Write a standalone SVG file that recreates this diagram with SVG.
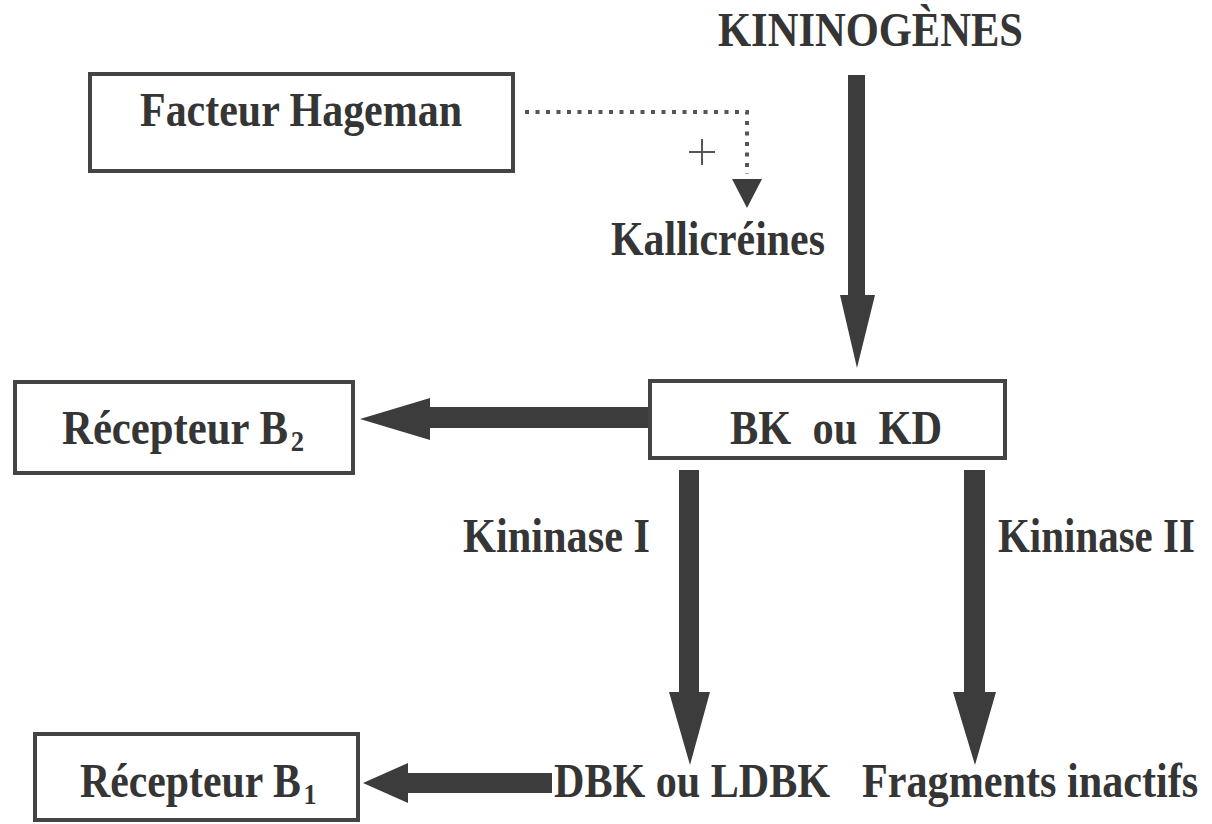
<svg xmlns="http://www.w3.org/2000/svg" width="1212" height="824" viewBox="0 0 1212 824">
<style>
.t{font-family:"Liberation Serif","Times New Roman",serif;font-weight:bold;font-size:48px;fill:#353535}
.box{fill:#fff;stroke:#444;stroke-width:4}
.arr{fill:#3c3c3c}
.dot{fill:none;stroke:#555;stroke-width:4;stroke-dasharray:4 6.5}
</style>
<rect width="1212" height="824" fill="#fff"/>
<g id="connectors">
<path class="dot" d="M525 112 H747 V174"/>
<polygon class="arr" points="732,179 762,179 747,208"/>
<path d="M689 152 H715 M702 139 V165" stroke="#555" stroke-width="2" fill="none"/>
<polygon class="arr" points="848,75 865,75 865,295 875,295 857,368 840,295 848,295"/>
<polygon class="arr" points="648,407 648,428 430,428 430,440 360,419 430,398 430,407"/>
<polygon class="arr" points="552,773 552,793 408,793 408,803 363,783 408,763 408,773"/>
<polygon class="arr" points="679,470 699,470 699,692 710,692 690,765 669,692 679,692"/>
<polygon class="arr" points="964,470 985,470 985,692 996,692 975,765 953,692 964,692"/>
</g>
<g id="kininogenes"><text class="t" x="718" y="46" textLength="305" lengthAdjust="spacingAndGlyphs">KININOGÈNES</text></g>
<g id="hageman">
<rect class="box" x="90" y="74" width="423" height="97"/>
<text class="t" x="140" y="126" textLength="322" lengthAdjust="spacingAndGlyphs">Facteur Hageman</text>
</g>
<g id="kallicreines"><text class="t" x="611" y="255" textLength="214" lengthAdjust="spacingAndGlyphs">Kallicréines</text></g>
<g id="bk">
<rect class="box" x="650" y="381" width="355" height="77"/>
<text class="t" x="730" y="444" textLength="212" lengthAdjust="spacingAndGlyphs" xml:space="preserve">BK  ou  KD</text>
</g>
<g id="b2">
<rect class="box" x="15" y="382" width="338" height="91"/>
<g transform="translate(62,444) scale(0.888,1)"><text class="t" x="0" y="0"><tspan textLength="254.5" lengthAdjust="spacingAndGlyphs">Récepteur B</tspan><tspan font-size="30" dx="3" dy="7">2</tspan></text></g>
</g>
<g id="kininase1"><text class="t" x="463" y="552" textLength="187" lengthAdjust="spacingAndGlyphs">Kininase I</text></g>
<g id="kininase2" transform="translate(998,552) scale(0.86,1)"><text class="t" x="0" y="0" textLength="229" lengthAdjust="spacingAndGlyphs">Kininase II</text></g>
<g id="dbk"><text class="t" x="554" y="797" textLength="276" lengthAdjust="spacingAndGlyphs">DBK ou LDBK</text></g>
<g id="fragments" transform="translate(862,797) scale(0.88,1)"><text class="t" x="0" y="0" textLength="382" lengthAdjust="spacingAndGlyphs">Fragments inactifs</text></g>
<g id="b1">
<rect class="box" x="35" y="734" width="323" height="86"/>
<g transform="translate(80,797) scale(0.868,1)"><text class="t" x="0" y="0"><tspan textLength="254.5" lengthAdjust="spacingAndGlyphs">Récepteur B</tspan><tspan font-size="30" dx="3" dy="7">1</tspan></text></g>
</g>
</svg>
